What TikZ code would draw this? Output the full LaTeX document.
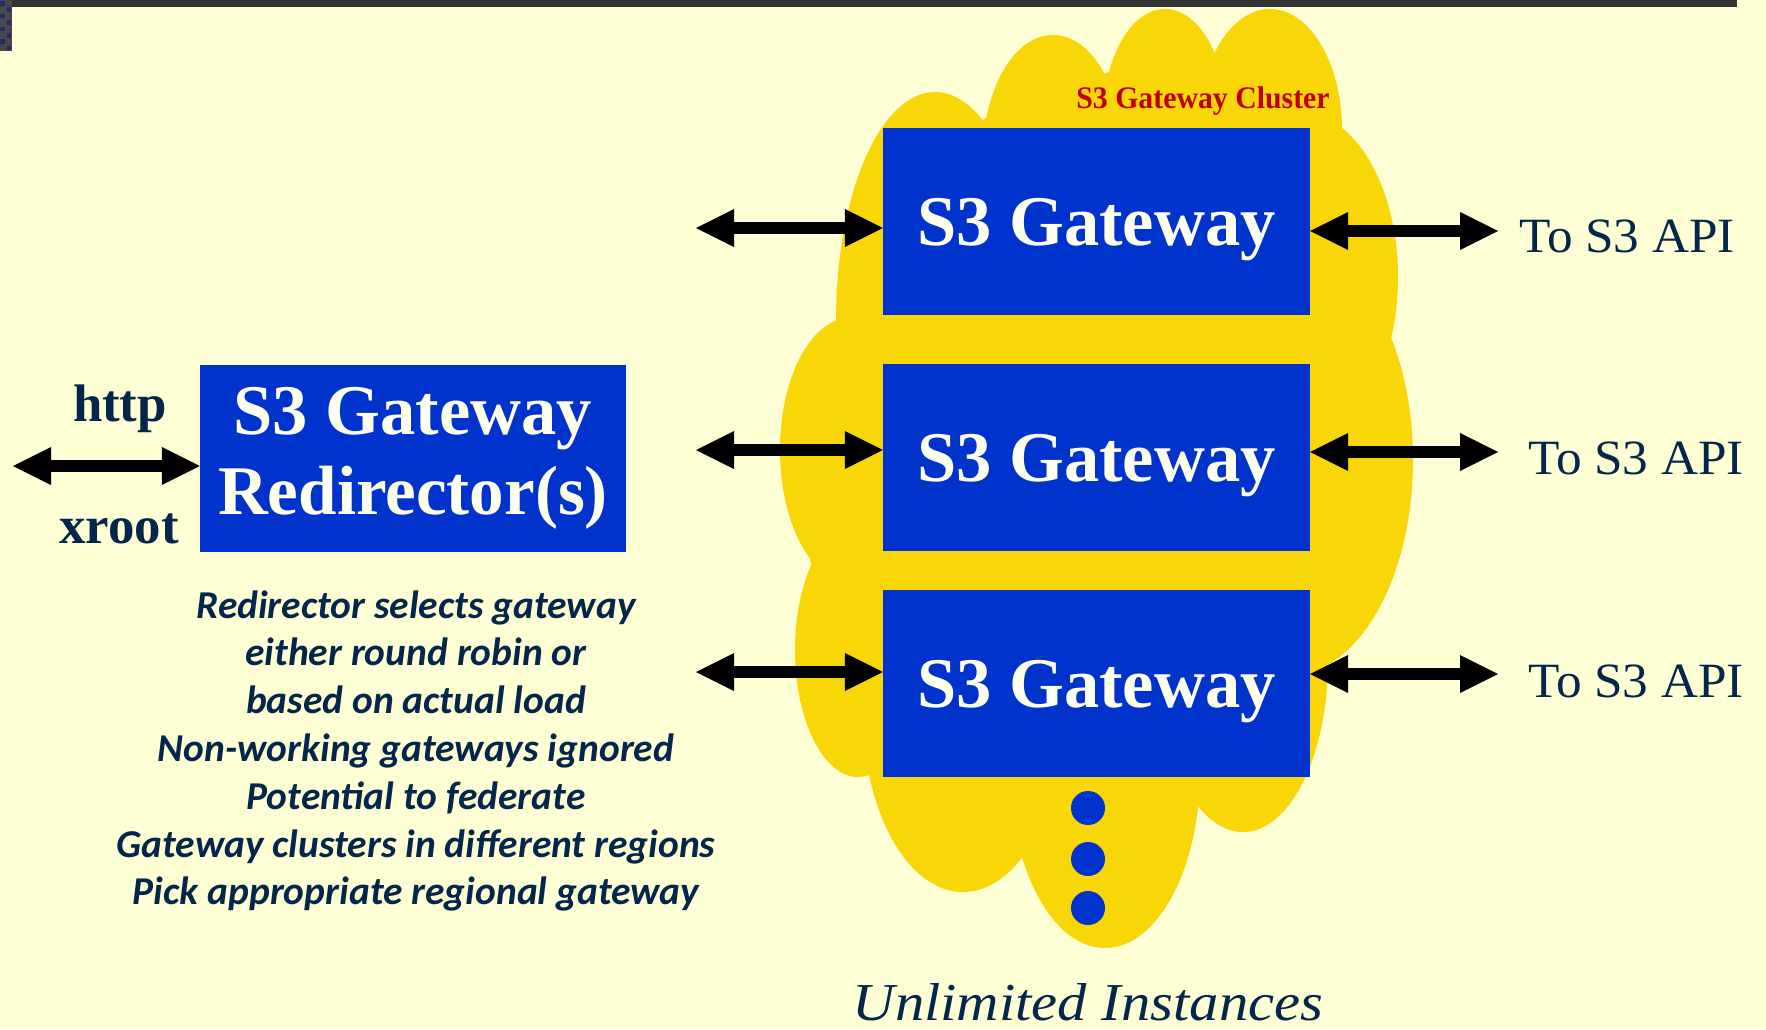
\documentclass[tikz,border=0pt]{standalone}
\usepackage{fontspec}
\usetikzlibrary{arrows.meta}
\setmainfont{Liberation Serif}
\newfontfamily\palfont[FakeStretch=1.04]{Liberation Serif}
\newfontfamily\boxfont[FakeStretch=0.99]{Liberation Serif}
\newfontfamily\clusterfont[FakeStretch=0.95]{Liberation Serif}
\newfontfamily\unlimfont[FakeStretch=1.1]{Liberation Serif}
\newfontfamily\calfont{Carlito}
\definecolor{bgc}{RGB}{255,255,213}
\definecolor{barc}{RGB}{51,51,51}
\definecolor{patchc}{RGB}{72,72,76}
\definecolor{patchsq}{RGB}{36,44,100}
\definecolor{goldc}{RGB}{249,214,8}
\definecolor{boxc}{RGB}{0,51,204}
\definecolor{boxtextc}{RGB}{255,255,240}
\definecolor{navyc}{RGB}{4,38,74}
\definecolor{redc}{RGB}{192,0,0}
\tikzset{
  bt/.tip={Triangle[length=38bp 0 1, width=38bp 0 1, line width=0pt 0 0]},
  biarrow/.style={line width=12.7bp, draw=black, bt-bt},
  box/.style={fill=boxc, draw=none, inner sep=0pt, text=boxtextc, minimum height=187bp,
    font=\boxfont\bfseries\fontsize{71.5}{80}\selectfont},
  gwbox/.style={box, minimum width=427bp, text height=48bp, text depth=0bp},
  plain/.style={inner sep=0pt, text=navyc},
  protolabel/.style={plain, font=\bfseries\fontsize{53}{60}\selectfont, anchor=base},
  apitext/.style={plain, font=\palfont\fontsize{49.5}{56}\selectfont, anchor=base west},
  clusterlabel/.style={inner sep=0pt, text=redc, font=\clusterfont\bfseries\fontsize{31.5}{36}\selectfont, anchor=base},
  info/.style={plain, align=center, font=\calfont\bfseries\itshape\fontsize{39.6}{48}\selectfont},
  unlim/.style={plain, font=\unlimfont\itshape\fontsize{53.5}{60}\selectfont, anchor=base},
  dot/.style={fill=boxc}
}
\begin{document}
\begin{tikzpicture}[x=1bp,y=-1bp]
\useasboundingbox (0,0) rectangle (1766,1029);
\fill[bgc] (0,0) rectangle (1766,1029);
\fill[barc] (12,0) rectangle (1737,7);
\fill[patchc] (0,0) rectangle (12,51);
\foreach \r in {0,...,7}{\fill[patchsq] ({mod(\r,2)*6+0.5},{\r*6.4+1}) rectangle ++(4.5,4.5);}
% cloud
\begin{scope}[fill=goldc]
\fill (837,322) -- (985,118) -- (1109,72) -- (1216,60) -- (1340,127) -- (1392,343) -- (1327,662) -- (1198,807) -- (1022,858) -- (868,772) -- (810,560) -- cycle;
\fill (935,320) ellipse [x radius=99, y radius=228];
\fill (1053,155) ellipse [x radius=70, y radius=120];
\fill (1165,119) ellipse [x radius=62, y radius=110];
\fill (1270,130) ellipse [x radius=72, y radius=121];
\fill (1300,277) ellipse [x radius=98, y radius=165];
\fill (1290,460) ellipse [x radius=123, y radius=215];
\fill (1243,661) ellipse [x radius=85, y radius=171];
\fill (1105,771) ellipse [x radius=95, y radius=177];
\fill (963,713) ellipse [x radius=100, y radius=179];
\fill (858,650) ellipse [x radius=63, y radius=127];
\fill (850,450) ellipse [x radius=70, y radius=132];
\end{scope}
% boxes
\node[gwbox] (g1) at (1096.5,221.5) {S3 Gateway};
\node[gwbox] (g2) at (1096.5,457.5) {S3 Gateway};
\node[gwbox] (g3) at (1096.5,683) {S3 Gateway};
\node[box, minimum width=426bp, align=center, font=\boxfont\bfseries\fontsize{71.5}{80}\selectfont] (redir) at (413,458.5) {S3 Gateway\\{\fontsize{70}{80}\selectfont Redirector(s)}};
% dots
\foreach \yy in {808,859,908} \fill[dot] (1088,\yy) circle [radius=17];
% labels
\node[clusterlabel] (cl) at (1203,108) {S3 Gateway Cluster};
\node[protolabel] (http) at (120,421) {http};
\node[protolabel] (xroot) at (119,543) {xroot};
\node[apitext] (api1) at (1519,252) {To S3 API};
\node[apitext] (api2) at (1528,474) {To S3 API};
\node[apitext] (api3) at (1528,697) {To S3 API};
\node[info] (info) at (416,751) {Redirector selects gateway\\either round robin or\\based on actual load\\Non-working gateways ignored\\Potential to federate\\Gateway clusters in different regions\\Pick appropriate regional gateway};
\node[unlim] (unl) at (1088,1020) {Unlimited Instances};
% connectors
\coordinate (cin) at (13,466);
\draw[biarrow] (cin) -- (cin -| redir.west);
\coordinate (l1) at (696,228);
\coordinate (l2) at (696,450);
\coordinate (l3) at (696,672);
\draw[biarrow] (l1) -- (l1 -| g1.west);
\draw[biarrow] (l2) -- (l2 -| g2.west);
\draw[biarrow] (l3) -- (l3 -| g3.west);
\coordinate (r1) at (1498,231);
\coordinate (r2) at (1498,452);
\coordinate (r3) at (1498,674);
\draw[biarrow] (r1 -| g1.east) -- (r1);
\draw[biarrow] (r2 -| g2.east) -- (r2);
\draw[biarrow] (r3 -| g3.east) -- (r3);
\end{tikzpicture}
\end{document}
